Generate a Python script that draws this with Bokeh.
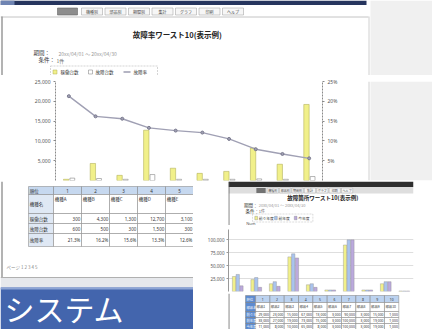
from bokeh.plotting import figure
from bokeh.layouts import column, row
from bokeh.models import (Range1d, FactorRange, LinearAxis, FixedTicker,
                          NumeralTickFormatter, PrintfTickFormatter, ColumnDataSource)
from bokeh.transform import dodge
from bokeh.core.properties import value
from bokeh.embed import file_html
from bokeh.resources import INLINE

JP = "Noto Sans CJK JP"
NUM = "Noto Sans"

# ---------------- data: main chart (failure-rate worst 10) ----------------
main_title = "故障率ワースト10(表示例)"
period_text = "20xx/04/01 ～ 20xx/04/30"
cond_text = "1件"
banner_text = "システム"
models = ["機種A", "機種B", "機種C", "機種D", "機種E",
          "機種F", "機種G", "機種H", "機種I", "機種J"]
units_running = [300, 4300, 1300, 12700, 3100, 1800, 2300, 8200, 4100, 19200]
units_failed = [600, 500, 300, 1500, 300, 300, 300, 400, 300, 1000]
failure_rate = [21.3, 16.2, 15.6, 13.3, 12.6, 12.1, 10.5, 7.9, 6.7, 5.6]
main_series = ["稼働台数", "故障台数", "故障率"]
count_ticks = [5000, 10000, 15000, 20000, 25000]
rate_ticks = [5, 10, 15, 20, 25]
table_visible_cols = 5

# ---------------- data: second chart (parts worst 10) ----------------
parts_title = "故障箇所ワースト10(表示例)"
parts = ["部品1", "部品2", "部品3", "部品4", "部品5",
         "部品6", "部品7", "部品8", "部品9", "部品10"]
parts_a = [29000, 23000, 15000, 67000, 13000, 3000, 90000, 3000, 15000, 1000]
parts_b = [33000, 27000, 19000, 73000, 15000, 3000, 100000, 3000, 19000, 1000]
parts_c = [11000, 8000, 10000, 65000, 8000, 3000, 100000, 3000, 19000, 1000]
parts_series = ["前々年度", "前年度", "今年度"]
parts_ticks = [25000, 50000, 75000, 100000]
tabs = ["機種別", "部品別", "期間別", "集計", "グラフ", "印刷", "ヘルプ"]

YELLOW, YELLOW_LINE = "#f1f08a", "#b3b15a"
BLUE2, PURPLE2 = "#a9c4ef", "#bba9dd"


def deco(w, h, x0, y0):
    f = figure(width=w, height=h, x_range=Range1d(x0, x0 + w), y_range=Range1d(y0 + h, y0),
               x_axis_location=None, y_axis_location=None, min_border=0,
               output_backend="svg", toolbar_location=None)
    f.outline_line_color = None
    f.grid.visible = False
    return f


def put(f, x, y, s, size=5, color="#333", align="left", base="middle", style="normal", font=JP):
    f.text(x=[x], y=[y], text=[s], text_font=value(font), text_font_size=value(f"{size}px"),
           text_color=color, text_align=align, text_baseline=base, text_font_style=style)


def box(f, l, r, t, b, fill, line=None, lw=0.6, dash="solid"):
    f.quad(left=[l], right=[r], top=[t], bottom=[b], fill_color=fill,
           line_color=line, line_width=lw, line_dash=dash)


def draw_table(f, cols, rows, texts, fills, size, txt_colors, name_row=1):
    L, R, T, B, F = [], [], [], [], []
    for ri in range(len(rows) - 1):
        for ci in range(len(cols) - 1):
            L.append(cols[ci]); R.append(cols[ci + 1])
            T.append(rows[ri]); B.append(rows[ri + 1])
            F.append(fills[ri][ci])
    f.quad(left=L, right=R, top=T, bottom=B, fill_color=F, line_color="#7d7d7d", line_width=0.5)
    for ri, rt in enumerate(texts):
        if ri >= len(rows) - 1:
            break
        for ci, s in enumerate(rt):
            if ci >= len(cols) - 1:
                break
            l, r = cols[ci], cols[ci + 1]
            t, b = rows[ri], rows[ri + 1]
            col = txt_colors[ri][ci]
            if ci == 0:
                put(f, l + 1.2, (t + b) / 2, s, size, col)
            elif ri == 0:
                put(f, (l + r) / 2, (t + b) / 2, s, size, col, align="center", font=NUM)
            elif ri == name_row:
                put(f, l + 1.2, t + 1.2, s, size, col, base="top")
            else:
                put(f, r - 1.2, (t + b) / 2, s, size, col, align="right", font=NUM)


# ================= top header band (y 0-75) =================
ph = deco(432, 75, 0, 0)
box(ph, 370, 432, 0, 75, "#f0f0f0")
box(ph, 0, 366, 0, 4.5, "#26355e")
box(ph, 0, 14, 0, 4.5, "#6f84b2")
ph.segment(x0=[0], y0=[16.5], x1=[368], y1=[16.5], line_color="#c4c4c4", line_width=1)
ph.segment(x0=[1.5], y0=[16], x1=[1.5], y1=[75], line_color="#9a9a9a", line_width=1.5)
ph.segment(x0=[368.5], y0=[16], x1=[368.5], y1=[75], line_color="#d0d0d0", line_width=1)
box(ph, 57, 77, 7.5, 14.5, "#8d8d8d", "#666")
for i, t in enumerate(tabs):
    x = 81 + i * 23.5
    box(ph, x, x + 21, 7.5, 14.5, "#f6f6f6", "#9a9a9a", 0.5)
    put(ph, x + 10.5, 11, t, 4, "#444", align="center")
put(ph, 177, 34, main_title, 7.5, "#222", align="center", style="bold")
put(ph, 33, 52.5, "期間：", 5.5, "#333")
put(ph, 58, 52.5, period_text, 5, "#9a9a9a")
put(ph, 38, 59.5, "条件：", 5.5, "#333")
put(ph, 56, 59.5, cond_text, 5, "#666")
box(ph, 50, 157, 65.5, 77.5, "white", "#b8b8b8", 0.6, "2 1")
box(ph, 52.5, 56.5, 69.5, 73.5, YELLOW, YELLOW_LINE, 0.5)
put(ph, 60, 71.5, main_series[0], 4.5, "#333")
box(ph, 88, 92, 69.5, 73.5, "white", "#777", 0.5)
put(ph, 95, 71.5, main_series[1], 4.5, "#333")
ph.segment(x0=[123], y0=[71.5], x1=[130], y1=[71.5], line_color="#9c9cb0", line_width=1.5)
put(ph, 133, 71.5, main_series[2], 4.5, "#333")

# ================= main chart (y 75-181) =================
src = ColumnDataSource(dict(model=models, running=units_running,
                            failed=units_failed, rate=failure_rate))
pc = figure(width=345, height=106, x_range=FactorRange(*models), y_range=Range1d(0, 25000),
            x_axis_location=None, output_backend="svg", toolbar_location=None,
            min_border_left=55, min_border_right=23, min_border_top=6, min_border_bottom=1)
pc.outline_line_color = None
pc.grid.visible = False
pc.extra_y_ranges = {"rate": Range1d(0, 25)}
pc.vbar(x=dodge("model", -0.1, range=pc.x_range), top="running", width=0.2, source=src,
        fill_color=YELLOW, line_color=YELLOW_LINE, line_width=0.6)
pc.vbar(x=dodge("model", 0.13, range=pc.x_range), top="failed", width=0.18, source=src,
        fill_color="white", line_color="#858585", line_width=0.6)
pc.line(x="model", y="rate", y_range_name="rate", source=src,
        line_color="#a0a0b4", line_width=1.4)
pc.scatter(x="model", y="rate", y_range_name="rate", source=src, size=3,
           fill_color="#a0a0b4", line_color="#7a7a8e")
lax = pc.yaxis[0]
lax.ticker = FixedTicker(ticks=count_ticks)
lax.formatter = NumeralTickFormatter(format="0,0")
rax = LinearAxis(y_range_name="rate", ticker=FixedTicker(ticks=rate_ticks),
                 formatter=PrintfTickFormatter(format="%d%%"))
pc.add_layout(rax, "right")
for a in (lax, rax):
    a.axis_line_color = "#8a8a8a"
    a.axis_line_dash = "2 1"
    a.major_tick_line_color = "#8a8a8a"
    a.major_tick_out = 2
    a.major_tick_in = 0
    a.minor_tick_line_color = None
    a.major_label_text_font = NUM
    a.major_label_text_font_size = "5px"
    a.major_label_text_color = "#555"
    a.major_label_standoff = 3

ps = deco(87, 106, 345, 75)
box(ps, 370, 432, 75, 181, "#f0f0f0")
ps.segment(x0=[368.5], y0=[75], x1=[368.5], y1=[181], line_color="#d0d0d0", line_width=1)

# ================= bottom-left: table + banner (y 181-329) =================
pl = deco(193, 148, 0, 181)
pl.segment(x0=[1.5], y0=[181], x1=[1.5], y1=[277], line_color="#9a9a9a", line_width=1.5)
nv = table_visible_cols
mt_cols = [28, 53] + [53 + 28 * (i + 1) for i in range(nv)]
mt_rows = [186, 194, 213, 223, 233, 246]
mt_texts = [["順位"] + [str(i + 1) for i in range(nv)],
            ["機種名"] + models[:nv],
            [main_series[0]] + [f"{v:,}" for v in units_running[:nv]],
            [main_series[1]] + [f"{v:,}" for v in units_failed[:nv]],
            [main_series[2]] + [f"{v:.1f}%" for v in failure_rate[:nv]]]
mt_fills = [["#c6d8ef"] * (nv + 1)] + [["#dfe8f4"] + ["white"] * nv for _ in range(4)]
mt_txt = [["#333"] * (nv + 1) for _ in range(5)]
draw_table(pl, mt_cols, mt_rows, mt_texts, mt_fills, 4.5, mt_txt)
put(pl, 6, 266.5, "ページ  1 2 3 4 5", 4.5, "#888")
pl.segment(x0=[0], y0=[277], x1=[193], y1=[277], line_color="#b0b0b0", line_width=1)
box(pl, 0, 193, 277.5, 287, "#e6e8ec")
box(pl, 0, 193, 287, 329, "#4365ad")
box(pl, 0, 193, 287, 289, "#8ea5d5")
put(pl, 4, 307.5, banner_text, 30, "white", base="middle")

# ================= bottom-right: second window =================
rh = deco(239, 44, 193, 181)
box(rh, 193, 432, 181, 186.5, "#2e2e2e")
box(rh, 193, 432, 186.5, 193, "#dedede")
box(rh, 229, 241, 187.5, 192.5, "#727272")
for i, t in enumerate(tabs):
    x = 243 + i * 16
    box(rh, x, x + 14.5, 187.5, 192.5, "#f4f4f4", "#a0a0a0", 0.4)
    put(rh, x + 7.25, 190, t, 3, "#444", align="center")
rh.segment(x0=[193.5], y0=[181], x1=[193.5], y1=[225], line_color="#555", line_width=1)
put(rh, 315, 197.5, parts_title, 5.5, "#222", align="center", style="bold")
put(rh, 213, 204, "期間：", 4.5, "#333")
put(rh, 232, 204, period_text, 4, "#9a9a9a")
put(rh, 215, 210, "条件：", 4.5, "#333")
put(rh, 232, 210, cond_text, 4, "#666")
box(rh, 224, 302, 213.5, 221.5, "white", "#b8b8b8", 0.5, "2 1")
for i, (s, c) in enumerate(zip(parts_series, [YELLOW, BLUE2, PURPLE2])):
    x = 227 + i * 25.5
    box(rh, x, x + 3.5, 215.8, 219.3, c, "#888", 0.4)
    put(rh, x + 5, 217.5, s, 3.8, "#333")
put(rh, 216, 222.5, "Num", 4, "#555", font=NUM)

src2 = ColumnDataSource(dict(part=parts, a=parts_a, b=parts_b, c=parts_c))
rc = figure(width=239, height=68, x_range=FactorRange(*parts), y_range=Range1d(0, 120000),
            x_axis_location=None, output_backend="svg", toolbar_location=None,
            min_border_left=35, min_border_right=19, min_border_top=4, min_border_bottom=2)
rc.outline_line_color = None
rc.xgrid.visible = False
rc.ygrid.grid_line_color = "#dedede"
rc.ygrid.ticker = FixedTicker(ticks=parts_ticks)
for key, off, col in (("a", -0.2, YELLOW), ("b", 0.0, BLUE2), ("c", 0.2, PURPLE2)):
    rc.vbar(x=dodge("part", off, range=rc.x_range), top=key, width=0.18, source=src2,
            fill_color=col, line_color="#8d8d8d", line_width=0.4)
ra = rc.yaxis[0]
ra.ticker = FixedTicker(ticks=parts_ticks)
ra.formatter = NumeralTickFormatter(format="0,0")
ra.axis_line_color = "#999"
ra.major_tick_line_color = "#999"
ra.major_tick_out = 2
ra.major_tick_in = 0
ra.minor_tick_line_color = None
ra.major_label_text_font = NUM
ra.major_label_text_font_size = "4.5px"
ra.major_label_text_color = "#555"
ra.major_label_standoff = 2

rt = deco(239, 36, 193, 293)
rt.segment(x0=[193.5], y0=[293], x1=[193.5], y1=[329], line_color="#555", line_width=1)
st_cols = [215] + [228 + 18.5 * i for i in range(len(parts) + 1)]
st_rows = [295, 302, 311, 317, 323, 329]
st_texts = [["順位"] + [str(i + 1) for i in range(len(parts))],
            ["部品名"] + parts,
            [parts_series[0]] + [f"{v:,}" for v in parts_a],
            [parts_series[1]] + [f"{v:,}" for v in parts_b],
            [parts_series[2]] + [f"{v:,}" for v in parts_c]]
st_fills = [["#5d8bd0"] + ["#bcd2ef"] * len(parts)] + \
           [["#5d8bd0"] + ["white"] * len(parts) for _ in range(4)]
st_txt = [["white"] + ["#333"] * len(parts) for _ in range(5)]
draw_table(rt, st_cols, st_rows, st_texts, st_fills, 3.4, st_txt)

layout = column(ph, row(pc, ps), row(pl, column(rh, rc, rt)))
open("out.html", "w").write(file_html(layout, INLINE))
